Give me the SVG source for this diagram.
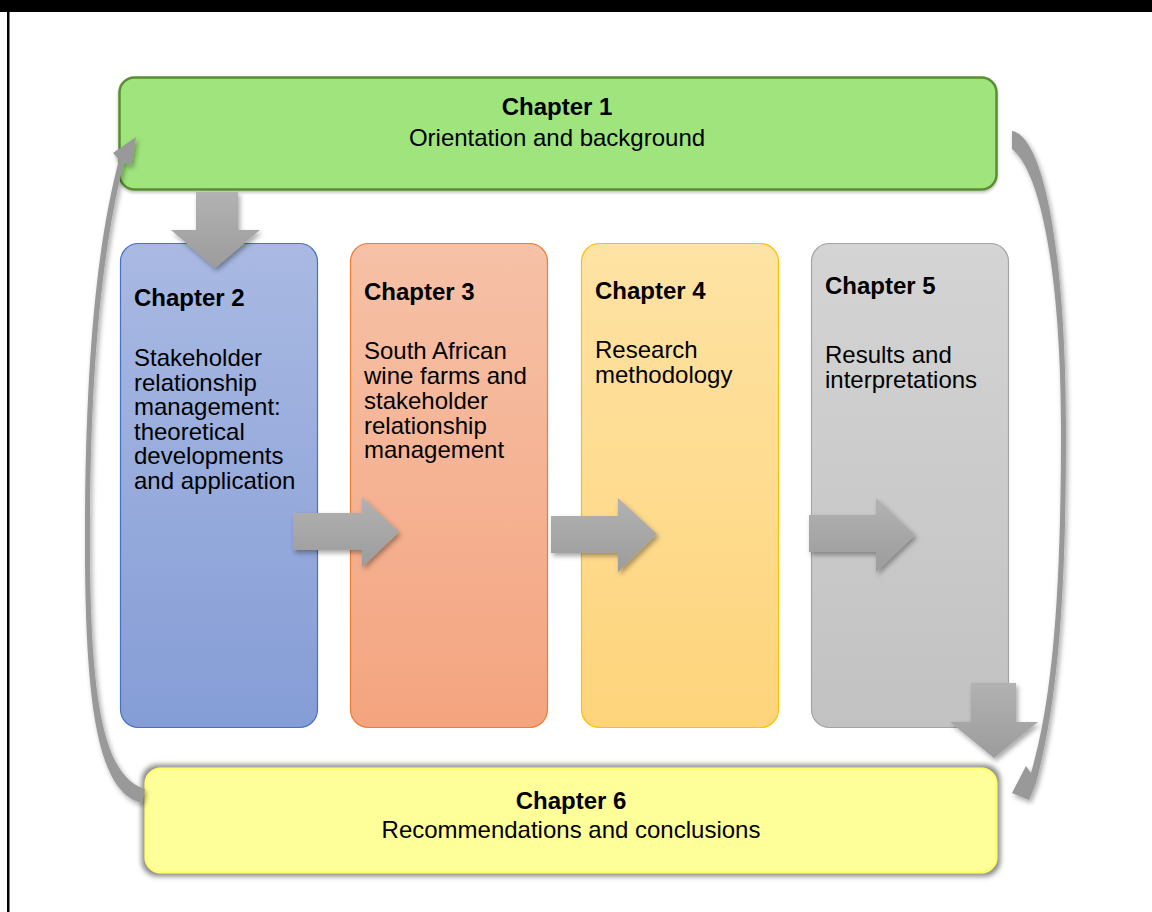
<svg xmlns="http://www.w3.org/2000/svg" width="1152" height="912" viewBox="0 0 1152 912">
<defs>
<style>
text{font-family:"Liberation Sans",Arial,sans-serif;font-size:24px;fill:#000}
.b{font-weight:bold}
.arr{fill:url(#ga)}
.arc{fill:#999}
</style>
<linearGradient id="g2" x1="0" y1="0" x2="0" y2="1"><stop offset="0" stop-color="#a9b9e2"/><stop offset="1" stop-color="#859dd6"/></linearGradient>
<linearGradient id="g3" x1="0" y1="0" x2="0" y2="1"><stop offset="0" stop-color="#f6c1a7"/><stop offset="1" stop-color="#f4a47f"/></linearGradient>
<linearGradient id="g4" x1="0" y1="0" x2="0" y2="1"><stop offset="0" stop-color="#fee3a4"/><stop offset="1" stop-color="#fed47b"/></linearGradient>
<linearGradient id="g5" x1="0" y1="0" x2="0" y2="1"><stop offset="0" stop-color="#d4d4d4"/><stop offset="1" stop-color="#c2c2c2"/></linearGradient>
<linearGradient id="ga" x1="0" y1="0" x2="0" y2="1"><stop offset="0" stop-color="#b2b2b2"/><stop offset="1" stop-color="#9c9c9c"/></linearGradient>
<filter id="sh" x="-30%" y="-30%" width="160%" height="160%">
<feGaussianBlur in="SourceAlpha" stdDeviation="2.5"/>
<feOffset dx="2" dy="3" result="o"/>
<feFlood flood-color="#000" flood-opacity="0.35"/>
<feComposite in2="o" operator="in"/>
<feMerge><feMergeNode/><feMergeNode in="SourceGraphic"/></feMerge>
</filter>
<filter id="sh6" x="-10%" y="-20%" width="120%" height="140%">
<feMorphology in="SourceAlpha" operator="dilate" radius="3"/>
<feGaussianBlur stdDeviation="2.5" result="o"/>
<feFlood flood-color="#7f7f7f" flood-opacity="0.9"/>
<feComposite in2="o" operator="in"/>
<feMerge><feMergeNode/><feMergeNode in="SourceGraphic"/></feMerge>
</filter>
<filter id="sh1" x="-5%" y="-10%" width="110%" height="130%">
<feGaussianBlur in="SourceAlpha" stdDeviation="1.5"/>
<feOffset dx="0" dy="2" result="o"/>
<feFlood flood-color="#000" flood-opacity="0.25"/>
<feComposite in2="o" operator="in"/>
<feMerge><feMergeNode/><feMergeNode in="SourceGraphic"/></feMerge>
</filter>
</defs>
<rect x="0" y="0" width="1152" height="912" fill="#fff"/>
<rect x="0" y="0" width="1152" height="12" fill="#000"/>
<rect x="7" y="12" width="2.5" height="900" fill="#000"/>

<g id="ch1">
<rect x="119.5" y="77.5" width="877" height="112" rx="15" fill="#9fe47b" stroke="#5a8e32" stroke-width="2.5" filter="url(#sh1)"/>
<text x="557" y="115" text-anchor="middle" class="b">Chapter 1</text>
<text x="557" y="146" text-anchor="middle">Orientation and background</text>
</g>

<g id="ch2">
<rect x="120.5" y="243.5" width="197" height="484" rx="18" fill="url(#g2)" stroke="#4472c4" stroke-width="1.2"/>
<text x="134" y="306" class="b">Chapter 2</text>
<text x="134" y="366">Stakeholder</text>
<text x="134" y="390.5">relationship</text>
<text x="134" y="415">management:</text>
<text x="134" y="439.5">theoretical</text>
<text x="134" y="464">developments</text>
<text x="134" y="489">and application</text>
</g>

<g id="ch3">
<rect x="350.5" y="243.5" width="197" height="484" rx="18" fill="url(#g3)" stroke="#ed7d31" stroke-width="1.2"/>
<text x="364" y="300" class="b">Chapter 3</text>
<text x="364" y="359">South African</text>
<text x="364" y="384">wine farms and</text>
<text x="364" y="408.5">stakeholder</text>
<text x="364" y="433.5">relationship</text>
<text x="364" y="458">management</text>
</g>

<g id="ch4">
<rect x="581.5" y="243.5" width="197" height="484" rx="18" fill="url(#g4)" stroke="#ffc000" stroke-width="1.2"/>
<text x="595" y="299" class="b">Chapter 4</text>
<text x="595" y="358">Research</text>
<text x="595" y="383">methodology</text>
</g>

<g id="ch5">
<rect x="811.5" y="243.5" width="197" height="484" rx="18" fill="url(#g5)" stroke="#a5a5a5" stroke-width="1.2"/>
<text x="825" y="294" class="b">Chapter 5</text>
<text x="825" y="363">Results and</text>
<text x="825" y="388">interpretations</text>
</g>

<g id="ch6">
<rect x="145.5" y="768.5" width="851" height="104" rx="15" fill="#ffff99" stroke="#ffff66" stroke-width="2" filter="url(#sh6)"/>
<text x="571" y="809" text-anchor="middle" class="b">Chapter 6</text>
<text x="571" y="838" text-anchor="middle">Recommendations and conclusions</text>
</g>

<g id="connectors">
<path class="arr" filter="url(#sh)" d="M196,192 H238 V230 H260 L215,268 L171,230 H196 Z"/>
<path class="arr" filter="url(#sh)" d="M293,513 H362 V497 L399,532 L362,567 V550 H293 Z"/>
<path class="arr" filter="url(#sh)" d="M551,516 H618 V498 L657,534 L618,572 V553 H551 Z"/>
<path class="arr" filter="url(#sh)" d="M809,515 H876 V498 L915,535 L876,572 V552 H809 Z"/>
<path class="arr" filter="url(#sh)" d="M971,683 H1016 V722 H1038 L994,758 L950,722 H971 Z"/>
<path class="arc" filter="url(#sh)" d="M142,803 C96,792 84,700 85,520 C86,345 99,235 119,160 L113,153 L136,137 L131,166 L124,162 C105,238 91,345 90,520 C89,700 103,776 145,789 Z"/>
<path class="arc" filter="url(#sh)" d="M1012,131 C1045,136 1066,260 1066,430 C1066,600 1058,700 1036,783 L1029,800 L1012,793 L1026,766 L1031,773 C1052,700 1061,600 1061,430 C1061,290 1044,175 1012,149 Z"/>
</g>
</svg>
